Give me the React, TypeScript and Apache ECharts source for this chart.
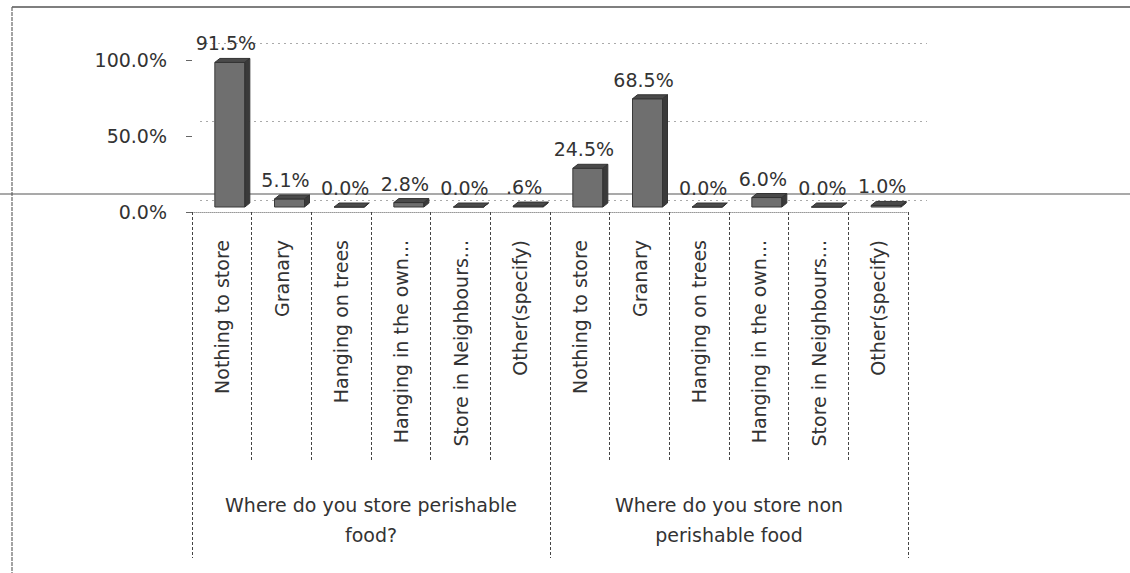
import React, { useEffect, useRef } from "react";
import * as echarts from "echarts";

const categories = [
  "Nothing to store",
  "Granary",
  "Hanging on trees",
  "Hanging in the own...",
  "Store in Neighbours...",
  "Other(specify)",
  "Nothing to store",
  "Granary",
  "Hanging on trees",
  "Hanging in the own...",
  "Store in Neighbours...",
  "Other(specify)",
];
const groups = [
  "Where do you store perishable\nfood?",
  "Where do you store non\nperishable food",
];
const values = [91.5, 5.1, 0.0, 2.8, 0.0, 0.6, 24.5, 68.5, 0.0, 6.0, 0.0, 1.0];
const yTicks = [0, 50, 100];

const FONT = '"DejaVu Sans", sans-serif';
const TXT = "#333";

function fmtLabel(v: number): string {
  const s = v.toFixed(1);
  if (v > 0 && v < 1) return s.replace(/^0/, "") + "%";
  return s + "%";
}

export default function App() {
  const ref = useRef<HTMLDivElement>(null);
  useEffect(() => {
    if (!ref.current) return;
    const chart = echarts.init(ref.current, null, { renderer: "svg" });
    const option: any = {
      animation: false,
      backgroundColor: "#fff",
      grid: [
        { left: 192, right: 222, top: 60, bottom: 361, outerBoundsMode: "none" },
        { left: 192, right: 222, top: 49, bottom: 366, outerBoundsMode: "none" },
        { left: 200, right: 203, top: 43, bottom: 373, outerBoundsMode: "none" },
      ],
      xAxis: [
        {
          gridIndex: 0,
          type: "category",
          data: categories,
          position: "bottom",
          axisLine: { show: true, lineStyle: { color: "#999", type: "dotted", width: 1 } },
          axisTick: { show: true, interval: 0, length: 250, lineStyle: { color: "#444", type: [3, 2], width: 1 } },
          axisLabel: { interval: 0, rotate: 90, margin: 28, fontSize: 19, fontFamily: FONT, color: TXT },
        },
        {
          gridIndex: 0,
          type: "category",
          data: groups,
          position: "bottom",
          axisLine: { show: false },
          axisTick: { show: true, interval: 0, length: 346, lineStyle: { color: "#444", type: [3, 2], width: 1 } },
          axisLabel: { interval: 0, margin: 278, lineHeight: 30, fontSize: 19, fontFamily: FONT, color: TXT, align: "center" },
        },
        { gridIndex: 1, type: "category", data: categories, show: false },
        { gridIndex: 2, type: "value", min: 0, max: 1, show: false },
      ],
      yAxis: [
        {
          gridIndex: 0,
          type: "value",
          min: yTicks[0],
          max: yTicks[yTicks.length - 1],
          interval: 50,
          axisLine: { show: false },
          axisTick: { show: true, length: 6, lineStyle: { color: "#666" } },
          splitLine: { show: false },
          axisLabel: {
            margin: 25,
            fontSize: 19,
            fontFamily: FONT,
            color: TXT,
            formatter: (v: number) => v.toFixed(1) + "%",
          },
        },
        { gridIndex: 1, type: "value", min: 0, max: 100, show: false },
        {
          gridIndex: 2,
          type: "value",
          min: 0,
          max: 100,
          interval: 50,
          axisLine: { show: false },
          axisTick: { show: false },
          axisLabel: { show: false },
          splitLine: { show: true, lineStyle: { color: "#aaa", type: [2, 4], width: 1 } },
        },
      ],
      graphic: [
        { type: "line", z: 0, shape: { x1: 12, y1: 7, x2: 1130, y2: 7 }, style: { stroke: "#555", lineWidth: 1.5 } },
        { type: "line", z: 0, shape: { x1: 12, y1: 7, x2: 12, y2: 573 }, style: { stroke: "#666", lineWidth: 1.2, lineDash: [4, 1] } },
        { type: "line", z: 0, shape: { x1: 0, y1: 194, x2: 1130, y2: 194 }, style: { stroke: "#555", lineWidth: 1.2 } },
      ],
      series: [
        {
          type: "custom",
          xAxisIndex: 2,
          yAxisIndex: 1,
          z: 5,
          data: values.map((v, i) => [i, v]),
          encode: { x: 0, y: 1 },
          renderItem: (params: any, api: any) => {
            const idx = api.value(0);
            const v = api.value(1);
            const top = api.coord([idx, v]);
            const base = api.coord([idx, 0]);
            const w = 30;
            const shift = 8;
            const x0 = top[0] + shift - w / 2;
            const x1 = x0 + w;
            const yT = top[1];
            const yB = base[1];
            const dx = 5;
            const dy = 4;
            return {
              type: "group",
              children: [
                {
                  type: "rect",
                  shape: { x: x0, y: yT, width: w, height: yB - yT },
                  style: { fill: "#6f6f6f", stroke: "#3a3a3a", lineWidth: 1 },
                },
                {
                  type: "polygon",
                  shape: { points: [[x0, yT], [x0 + dx, yT - dy], [x1 + dx, yT - dy], [x1, yT]] },
                  style: { fill: "#4a4a4a", stroke: "#333", lineWidth: 1 },
                },
                {
                  type: "polygon",
                  shape: { points: [[x1, yT], [x1 + dx, yT - dy], [x1 + dx, yB - dy], [x1, yB]] },
                  style: { fill: "#3a3a3a", stroke: "#333", lineWidth: 1 },
                },
                {
                  type: "text",
                  x: top[0] + shift - 4,
                  y: yT - 19,
                  style: {
                    text: fmtLabel(v),
                    fill: TXT,
                    font: "19px " + FONT,
                    align: "center",
                    verticalAlign: "middle",
                  },
                },
              ],
            };
          },
        },
      ],
    };
    chart.setOption(option);
    return () => chart.dispose();
  }, []);
  return (
    <div
      ref={ref}
      style={{ position: "absolute", left: 0, top: 0, width: 1130, height: 573, background: "#fff" }}
    />
  );
}
